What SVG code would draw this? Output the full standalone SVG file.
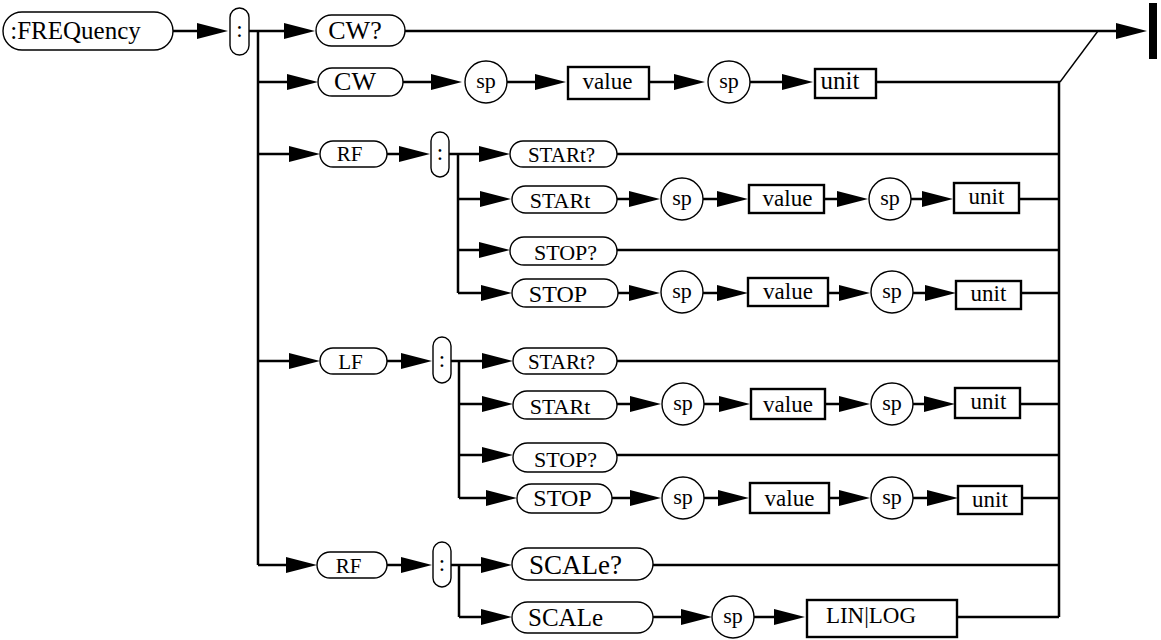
<svg xmlns="http://www.w3.org/2000/svg" xmlns:xlink="http://www.w3.org/1999/xlink" width="1161" height="640" viewBox="0 0 1161 640">
<style>
  .pill{fill:#fff;stroke:#000;stroke-width:1.4}
  .box{fill:#fff;stroke:#000;stroke-width:2.4}
  .circ{fill:#fff;stroke:#000;stroke-width:1.4}
  text{font-family:"Liberation Serif","Times New Roman",serif;fill:#000;text-anchor:middle}
  .ln{fill:none;stroke:#000;stroke-width:2.5}
  .thin{fill:none;stroke:#000;stroke-width:1.4}
</style>
<defs>
  <polygon id="ah" points="0,0 -31,-8 -31,8" fill="#000"/>
</defs>
<rect width="1161" height="640" fill="#fff"/>

<g id="connectors">
  <path class="ln" d="M173,31 H198 M249,31 H258 M258,31 V565 M258,31 H286 M405,31 H1118"/>
  <use xlink:href="#ah" x="228" y="31"/>
  <use xlink:href="#ah" x="315" y="31"/>
  <use xlink:href="#ah" x="1147" y="31"/>
  <path class="ln" d="M258,82 H290 M403,82 H434 M507,82 H537 M649,82 H677 M750,82 H785 M876,82 H1060"/>
  <path class="thin" d="M1060,82 L1098,31"/>
  <use xlink:href="#ah" x="318" y="82"/>
  <use xlink:href="#ah" x="462" y="82"/>
  <use xlink:href="#ah" x="566" y="82"/>
  <use xlink:href="#ah" x="705" y="82"/>
  <use xlink:href="#ah" x="813" y="82"/>
  <path class="ln" d="M1059,82 V617"/>
  <path class="ln" d="M258,154 H292 M387,154 H402 M449,154 H458 M458,154 V293 M458,154 H482 M617,154 H1059"/>
  <use xlink:href="#ah" x="320" y="154"/>
  <use xlink:href="#ah" x="430" y="154"/>
  <use xlink:href="#ah" x="510" y="154"/>
  <path class="ln" d="M458,199 H483 M617,199 H632 M703,199 H720 M824,199 H840 M911,199 H925 M1019,199 H1059"/>
  <use xlink:href="#ah" x="511" y="199"/>
  <use xlink:href="#ah" x="660" y="199"/>
  <use xlink:href="#ah" x="748" y="199"/>
  <use xlink:href="#ah" x="868" y="199"/>
  <use xlink:href="#ah" x="953" y="199"/>
  <path class="ln" d="M458,250 H482 M617,250 H1059"/>
  <use xlink:href="#ah" x="510" y="250"/>
  <path class="ln" d="M458,293 H484 M618,293 H632 M703,293 H720 M828,293 H842 M913,293 H927 M1021,293 H1059"/>
  <use xlink:href="#ah" x="512" y="293"/>
  <use xlink:href="#ah" x="660" y="293"/>
  <use xlink:href="#ah" x="748" y="293"/>
  <use xlink:href="#ah" x="870" y="293"/>
  <use xlink:href="#ah" x="956" y="293"/>
  <path class="ln" d="M258,361 H292 M387,361 H404 M451,361 H459 M459,361 V498 M459,361 H485 M617,361 H1059"/>
  <use xlink:href="#ah" x="320" y="361"/>
  <use xlink:href="#ah" x="432" y="361"/>
  <use xlink:href="#ah" x="513" y="361"/>
  <path class="ln" d="M459,404 H485 M617,404 H633 M704,404 H722 M825,404 H842 M913,404 H926 M1020,404 H1059"/>
  <use xlink:href="#ah" x="513" y="404"/>
  <use xlink:href="#ah" x="661" y="404"/>
  <use xlink:href="#ah" x="750" y="404"/>
  <use xlink:href="#ah" x="870" y="404"/>
  <use xlink:href="#ah" x="955" y="404"/>
  <path class="ln" d="M459,455 H485 M617,455 H1059"/>
  <use xlink:href="#ah" x="513" y="455"/>
  <path class="ln" d="M459,498 H489 M612,498 H633 M704,498 H721 M829,498 H843 M913,498 H930 M1022,498 H1059"/>
  <use xlink:href="#ah" x="517" y="498"/>
  <use xlink:href="#ah" x="661" y="498"/>
  <use xlink:href="#ah" x="749" y="498"/>
  <use xlink:href="#ah" x="870" y="498"/>
  <use xlink:href="#ah" x="958" y="498"/>
  <path class="ln" d="M258,565 H289 M387,565 H404 M451,565 H459 M459,565 V617 M459,565 H484 M653,565 H1059"/>
  <use xlink:href="#ah" x="317" y="565"/>
  <use xlink:href="#ah" x="432" y="565"/>
  <use xlink:href="#ah" x="512" y="565"/>
  <path class="ln" d="M459,617 H484 M653,617 H684 M754,617 H777 M957,617 H1059"/>
  <use xlink:href="#ah" x="512" y="617"/>
  <use xlink:href="#ah" x="712" y="617"/>
  <use xlink:href="#ah" x="805" y="617"/>
</g>

<g id="end"><rect x="1149" y="3" width="8" height="56" fill="#000"/></g>

<g id="n-freq"><rect class="pill" x="3" y="12" width="170" height="38" rx="19"/><text x="75.5" y="39" style="font-size:25px">:FREQuency</text></g>
<g id="n-colon0"><rect class="pill" x="230" y="8" width="19" height="47" rx="9.5"/><text x="239.5" y="37" style="font-size:23px">:</text></g>
<g id="n-cwq"><rect class="pill" x="316" y="15" width="89" height="31" rx="15.5"/><text x="355" y="39" style="font-size:26px">CW?</text></g>
<g id="n-cw"><rect class="pill" x="318" y="68" width="85" height="28" rx="14"/><text x="355" y="90" style="font-size:26px">CW</text></g>
<g id="n-cw-sp1"><circle class="circ" cx="486" cy="82" r="21"/><text x="486" y="88" style="font-size:22px">sp</text></g>
<g id="n-cw-value"><rect class="box" x="568" y="67" width="81" height="32"/><text x="607.5" y="89" style="font-size:23px">value</text></g>
<g id="n-cw-sp2"><circle class="circ" cx="729" cy="82" r="21"/><text x="729" y="88" style="font-size:22px">sp</text></g>
<g id="n-cw-unit"><rect class="box" x="815" y="69" width="61" height="29"/><text x="840" y="89" style="font-size:25px">unit</text></g>

<g id="n-rf1"><rect class="pill" x="320" y="141" width="67" height="26" rx="13"/><text x="349.5" y="161" style="font-size:21px">RF</text></g>
<g id="n-colon1"><rect class="pill" x="431" y="132" width="18" height="45" rx="9"/><text x="440" y="160" style="font-size:23px">:</text></g>
<g id="n-rf-startq"><rect class="pill" x="510" y="141" width="107" height="26" rx="13"/><text x="561.5" y="162" style="font-size:21px">STARt?</text></g>
<g id="n-rf-start"><rect class="pill" x="512" y="186" width="105" height="27" rx="13.5"/><text x="560" y="208" style="font-size:22px">STARt</text></g>
<g id="n-rf-start-sp1"><circle class="circ" cx="682" cy="199" r="21"/><text x="682" y="205" style="font-size:22px">sp</text></g>
<g id="n-rf-start-value"><rect class="box" x="749" y="185" width="75" height="28"/><text x="787.5" y="206" style="font-size:23px">value</text></g>
<g id="n-rf-start-sp2"><circle class="circ" cx="890" cy="199" r="21"/><text x="890" y="205" style="font-size:22px">sp</text></g>
<g id="n-rf-start-unit"><rect class="box" x="954" y="183" width="65" height="30"/><text x="986.5" y="204" style="font-size:23px">unit</text></g>
<g id="n-rf-stopq"><rect class="pill" x="510" y="237" width="107" height="28" rx="14"/><text x="565.5" y="260" style="font-size:22px">STOP?</text></g>
<g id="n-rf-stop"><rect class="pill" x="512" y="279" width="106" height="28" rx="14"/><text x="558" y="302" style="font-size:24px">STOP</text></g>
<g id="n-rf-stop-sp1"><circle class="circ" cx="682" cy="292" r="21"/><text x="682" y="298" style="font-size:22px">sp</text></g>
<g id="n-rf-stop-value"><rect class="box" x="748" y="278" width="80" height="28"/><text x="788" y="299" style="font-size:23px">value</text></g>
<g id="n-rf-stop-sp2"><circle class="circ" cx="892" cy="292" r="21"/><text x="892" y="298" style="font-size:22px">sp</text></g>
<g id="n-rf-stop-unit"><rect class="box" x="956" y="281" width="65" height="28"/><text x="988.5" y="301" style="font-size:23px">unit</text></g>

<g id="n-lf"><rect class="pill" x="320" y="348" width="67" height="26" rx="13"/><text x="350.5" y="369" style="font-size:21px">LF</text></g>
<g id="n-colon2"><rect class="pill" x="433" y="337" width="18" height="46" rx="9"/><text x="442" y="367" style="font-size:23px">:</text></g>
<g id="n-lf-startq"><rect class="pill" x="513" y="348" width="104" height="26" rx="13"/><text x="561.5" y="369" style="font-size:21px">STARt?</text></g>
<g id="n-lf-start"><rect class="pill" x="513" y="391" width="104" height="28" rx="14"/><text x="560" y="414" style="font-size:22px">STARt</text></g>
<g id="n-lf-start-sp1"><circle class="circ" cx="683" cy="404" r="21"/><text x="683" y="410" style="font-size:22px">sp</text></g>
<g id="n-lf-start-value"><rect class="box" x="751" y="389" width="74" height="30"/><text x="788" y="412" style="font-size:23px">value</text></g>
<g id="n-lf-start-sp2"><circle class="circ" cx="892" cy="404" r="21"/><text x="892" y="410" style="font-size:22px">sp</text></g>
<g id="n-lf-start-unit"><rect class="box" x="955" y="388" width="65" height="30"/><text x="988.5" y="409" style="font-size:23px">unit</text></g>
<g id="n-lf-stopq"><rect class="pill" x="513" y="443" width="104" height="29" rx="14.5"/><text x="565.5" y="467" style="font-size:22px">STOP?</text></g>
<g id="n-lf-stop"><rect class="pill" x="517" y="484" width="95" height="29" rx="14.5"/><text x="562.5" y="506" style="font-size:24px">STOP</text></g>
<g id="n-lf-stop-sp1"><circle class="circ" cx="683" cy="498" r="21"/><text x="683" y="504" style="font-size:22px">sp</text></g>
<g id="n-lf-stop-value"><rect class="box" x="750" y="483" width="79" height="30"/><text x="789.5" y="506" style="font-size:23px">value</text></g>
<g id="n-lf-stop-sp2"><circle class="circ" cx="892" cy="498" r="21"/><text x="892" y="504" style="font-size:22px">sp</text></g>
<g id="n-lf-stop-unit"><rect class="box" x="958" y="486" width="64" height="28"/><text x="990" y="507" style="font-size:23px">unit</text></g>

<g id="n-rf2"><rect class="pill" x="317" y="552" width="70" height="26" rx="13"/><text x="348.5" y="573" style="font-size:21px">RF</text></g>
<g id="n-colon3"><rect class="pill" x="433" y="542" width="18" height="45" rx="9"/><text x="442" y="571" style="font-size:23px">:</text></g>
<g id="n-scaleq"><rect class="pill" x="512" y="548" width="141" height="32" rx="16"/><text x="575.5" y="574" style="font-size:27px">SCALe?</text></g>
<g id="n-scale"><rect class="pill" x="512" y="602" width="141" height="31" rx="15.5"/><text x="565.5" y="626" style="font-size:25px">SCALe</text></g>
<g id="n-scale-sp"><circle class="circ" cx="733" cy="617" r="21"/><text x="733" y="623" style="font-size:22px">sp</text></g>
<g id="n-scale-linlog"><rect class="box" x="807" y="600" width="150" height="37"/><text x="871" y="623" style="font-size:23px">LIN|LOG</text></g>
</svg>
